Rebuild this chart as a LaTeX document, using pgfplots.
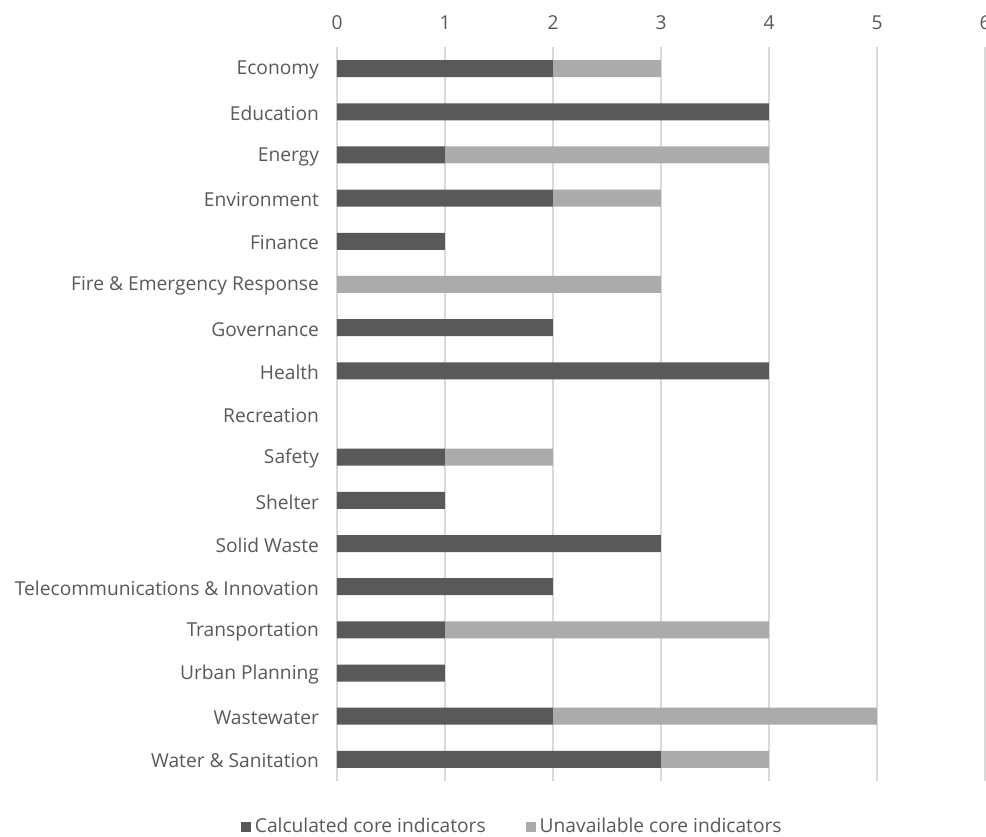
\documentclass[border=0pt]{standalone}
\usepackage{fontspec}
\setmainfont{Open Sans}
\usepackage{pgfplots}
\pgfplotsset{compat=1.18}
\definecolor{txt}{HTML}{595959}
\definecolor{darkbar}{HTML}{595959}
\definecolor{lightbar}{HTML}{ABABAB}
\definecolor{gridc}{HTML}{D9D9D9}
\begin{document}
\begin{tikzpicture}
\begin{axis}[
  at={(0,0)}, anchor=south west,
  scale only axis, width=324pt, height=367pt,
  xbar stacked, bar width=8.5pt,
  xmin=0, xmax=6, xtick={0,1,2,3,4,5,6},
  ymin=-0.5, ymax=16.5, y dir=reverse,
  ytick={0,...,16},
  yticklabels={Economy,Education,Energy,Environment,Finance,Fire \& Emergency Response\ ,Governance,Health,Recreation,Safety,Shelter,Solid Waste,Telecommunications \& Innovation,Transportation,Urban Planning,Wastewater,Water \& Sanitation},
  xticklabel pos=upper,
  axis line style={draw=none},
  major tick length=0pt,
  xmajorgrids, grid style={gridc, line width=0.6pt},
  tick label style={font=\fontsize{9.6}{11}\selectfont, text=txt},
  /pgf/number format/assume math mode=true,
  xticklabel style={yshift=5pt},
  yticklabel style={xshift=-5.5pt, yshift=-0.8pt},
  legend style={draw=none, at={(0.272,-0.0627)}, anchor=center, legend columns=2,
    font=\fontsize{9.6}{11}\selectfont, text=txt,
    /tikz/every even column/.append style={column sep=18pt}},
  legend image code/.code={\fill[#1] (1pt,-2.6pt) rectangle (6pt,2.4pt);},
  clip=false,
]
\addplot[fill=darkbar, draw=none] coordinates {
(2,0) (4,1) (1,2) (2,3) (1,4) (0,5) (2,6) (4,7) (0,8) (1,9) (1,10) (3,11) (2,12) (1,13) (1,14) (2,15) (3,16)};
\addplot[fill=lightbar, draw=none] coordinates {
(1,0) (0,1) (3,2) (1,3) (0,4) (3,5) (0,6) (0,7) (0,8) (1,9) (0,10) (0,11) (0,12) (3,13) (0,14) (3,15) (1,16)};
\legend{Calculated core indicators, Unavailable core indicators}
\end{axis}
\pgfresetboundingbox
\useasboundingbox (-168.5pt,-27.5pt) rectangle (324.5pt,390.5pt);
\end{tikzpicture}
\end{document}
